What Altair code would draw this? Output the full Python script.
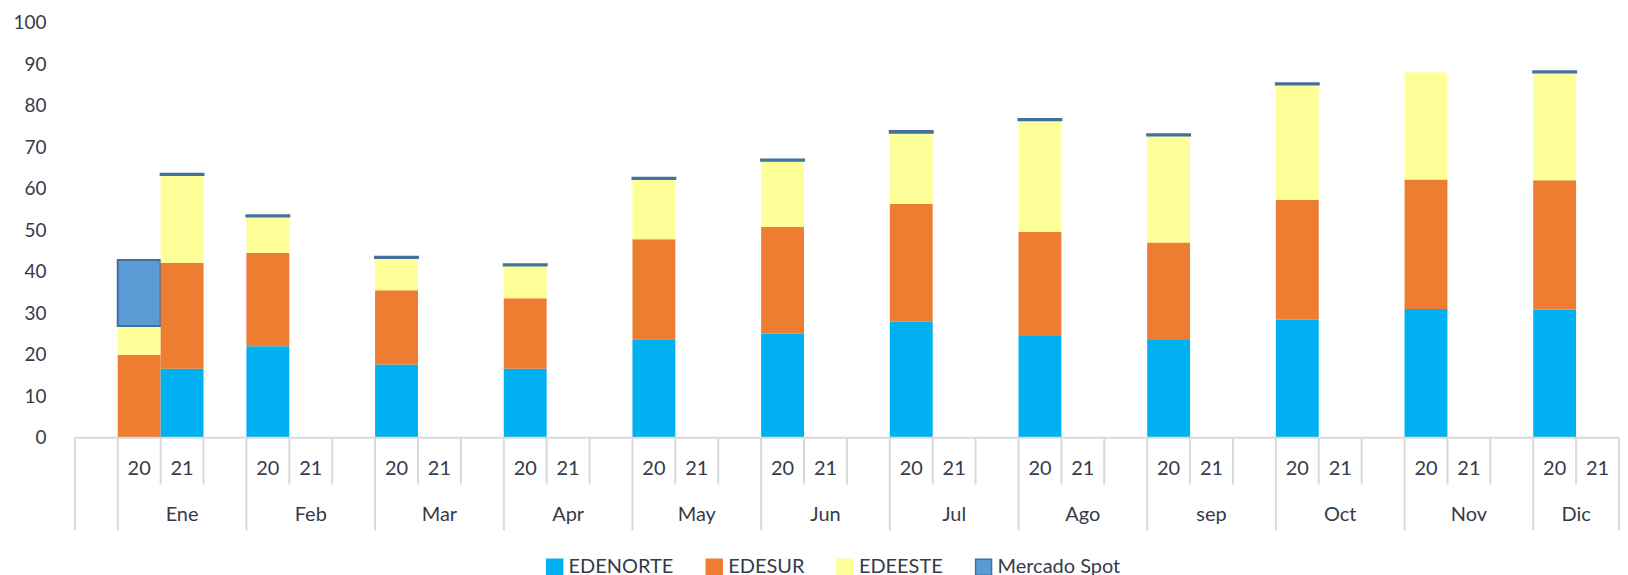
import altair as alt
import pandas as pd

months = ["Ene", "Feb", "Mar", "Apr", "May", "Jun", "Jul", "Ago", "sep", "Oct", "Nov", "Dic"]
years = ["20", "21"]
series = ["EDENORTE", "EDESUR", "EDEESTE", "Mercado Spot"]
fill_colors = ["#00B0F0", "#ED7D31", "#FFFF99", "#5B9BD5"]
stroke_colors = ["#00B0F0", "#ED7D31", "#FFFF99", "#41719C"]

# bar in the "20" column of each month
edenorte_20 = [0.0, 22.0, 17.6, 16.6, 23.7, 25.1, 27.9, 24.5, 23.5, 28.4, 31.0, 30.9]
edesur_20 = [20.0, 22.5, 17.9, 17.0, 24.1, 25.7, 28.4, 25.1, 23.5, 28.9, 31.2, 31.1]
edeeste_20 = [6.9, 8.8, 7.8, 7.9, 14.5, 15.9, 17.2, 26.9, 25.8, 27.8, 25.8, 26.0]
spot_20 = [15.9, 0.3, 0.3, 0.3, 0.3, 0.3, 0.4, 0.3, 0.3, 0.3, 0.0, 0.3]
# bar in the "21" column of each month
edenorte_21 = [16.6, 0, 0, 0, 0, 0, 0, 0, 0, 0, 0, 0]
edesur_21 = [25.5, 0, 0, 0, 0, 0, 0, 0, 0, 0, 0, 0]
edeeste_21 = [21.2, 0, 0, 0, 0, 0, 0, 0, 0, 0, 0, 0]
spot_21 = [0.3, 0, 0, 0, 0, 0, 0, 0, 0, 0, 0, 0]

values = {
    "20": [edenorte_20, edesur_20, edeeste_20, spot_20],
    "21": [edenorte_21, edesur_21, edeeste_21, spot_21],
}

# category slots: one leading empty slot, then per month "20", "21", empty (last month has no empty slot)
n_slots = 1 + 3 * len(months) - 1

rows = []
for m, mon in enumerate(months):
    for j, yr in enumerate(years):
        slot = 1 + 3 * m + j
        for k, s in enumerate(series):
            rows.append({"slot": slot, "slot_end": slot + 1, "series": s, "order": k,
                         "value": values[yr][k][m]})
bars_df = pd.DataFrame(rows)

year_rows = []
for m, mon in enumerate(months):
    for j, yr in enumerate(years):
        year_rows.append({"xc": 1 + 3 * m + j + 0.5, "label": yr})
year_df = pd.DataFrame(year_rows)

month_rows = []
for m, mon in enumerate(months):
    g0 = 1 + 3 * m
    g1 = min(g0 + 3, n_slots)
    month_rows.append({"xc": (g0 + g1) / 2, "label": mon})
month_df = pd.DataFrame(month_rows)

full_bounds = [0] + [1 + 3 * m for m in range(len(months))] + [n_slots]
short_bounds = [b for b in range(1, n_slots) if b not in full_bounds]

W, H = 1548, 416
FONT = "Lato"
TXT = "#353B4A"
GRID = "#D9D9D9"

xscale = alt.Scale(domain=[0, n_slots], nice=False, zero=False)
yscale = alt.Scale(domain=[0, 100], nice=False)

legend = alt.Legend(
    title=None, orient="none", legendX=471, legendY=536, direction="horizontal",
    symbolType="square", symbolSize=256, symbolStrokeWidth=1.5,
    labelFontSize=20, labelFont=FONT, labelColor=TXT, labelOffset=4,
    columnPadding=29, padding=0,
)

bars = (
    alt.Chart(bars_df)
    .transform_filter("datum.value > 0")
    .transform_stack(stack="value", as_=["y0", "y1"], groupby=["slot"],
                     sort=[alt.SortField("order", order="ascending")])
    .mark_bar()
    .encode(
        x=alt.X("slot:Q", scale=xscale, axis=None),
        x2="slot_end:Q",
        y=alt.Y("y0:Q", scale=yscale, axis=alt.Axis(
            values=list(range(0, 101, 10)), domain=False, ticks=False, grid=False,
            labelFontSize=19, labelFont=FONT, labelColor=TXT, labelPadding=29, title=None)),
        y2="y1:Q",
        fill=alt.Fill("series:N", scale=alt.Scale(domain=series, range=fill_colors), legend=legend),
        stroke=alt.Stroke("series:N", scale=alt.Scale(domain=series, range=stroke_colors), legend=legend),
        strokeWidth=alt.condition("datum.series == 'Mercado Spot'", alt.value(2), alt.value(0)),
    )
)

baseline = alt.Chart(pd.DataFrame({"a": [0], "b": [n_slots]})).mark_rule(
    color=GRID, strokeWidth=2).encode(
    x=alt.X("a:Q", scale=xscale, axis=None), x2="b:Q", y=alt.value(H))

full_rules = alt.Chart(pd.DataFrame({"b": full_bounds})).mark_rule(
    color=GRID, strokeWidth=2).encode(
    x=alt.X("b:Q", scale=xscale, axis=None), y=alt.value(H), y2=alt.value(H + 93))

short_rules = alt.Chart(pd.DataFrame({"b": short_bounds})).mark_rule(
    color=GRID, strokeWidth=2).encode(
    x=alt.X("b:Q", scale=xscale, axis=None), y=alt.value(H), y2=alt.value(H + 47))

year_text = alt.Chart(year_df).mark_text(
    font=FONT, fontSize=20, color=TXT, baseline="middle", align="center").encode(
    x=alt.X("xc:Q", scale=xscale, axis=None), y=alt.value(H + 31), text="label:N")

month_text = alt.Chart(month_df).mark_text(
    font=FONT, fontSize=20, color=TXT, baseline="middle", align="center").encode(
    x=alt.X("xc:Q", scale=xscale, axis=None), y=alt.value(H + 78), text="label:N")

chart = (
    alt.layer(short_rules, full_rules, bars, baseline, year_text, month_text)
    .properties(width=W, height=H, padding={"left": 4, "top": 5, "right": 0, "bottom": 0},
                background="white")
    .configure_view(stroke=None)
)

chart.save("out.html", embed_options={"renderer": "svg", "actions": False})
